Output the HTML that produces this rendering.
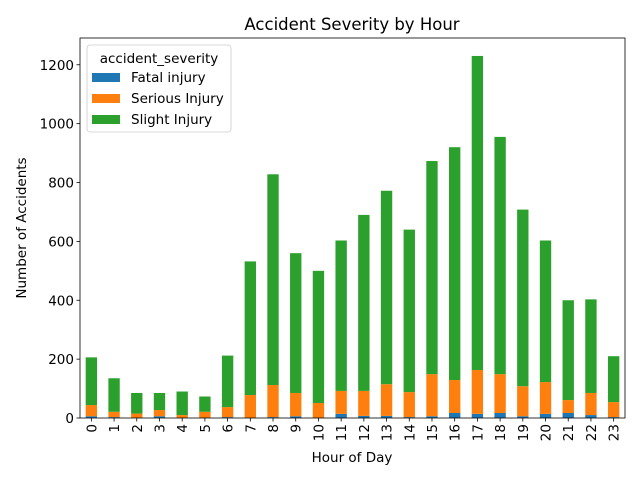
<!DOCTYPE html>
<html><head><meta charset="utf-8"><style>body{margin:0;background:#fff;position:relative}svg{font-family:"DejaVu Sans","Liberation Sans",sans-serif}</style></head>
<body>
<svg id="c" width="640" height="480"></svg>
<script>
const hours=[0,1,2,3,4,5,6,7,8,9,10,11,12,13,14,15,16,17,18,19,20,21,22,23];
const fatal=[6,3,0,6,0,0,3,0,3,6,0,14,7,7,3,6,17,14,17,6,14,17,10,3];
const serious=[38,18,15,21,10,21,34,78,109,79,51,78,85,108,85,143,112,149,132,102,108,44,75,51];
const slight=[162,114,70,58,80,52,175,454,716,475,449,511,598,657,552,724,791,1067,806,600,481,339,318,156];
const yTicks=[0,200,400,600,800,1000,1200];
const NS="http://www.w3.org/2000/svg";
const svg=document.getElementById('c');
const L=80,R=625,T=38,B=418;
const yMax=1291;
const y=v=>B-(v/yMax)*(B-T);
const step=(R-L)/hours.length;
const xc=i=>L+step*(i+0.5);
const bw=step*0.5;
function mk(t,a,txt){const e=document.createElementNS(NS,t);for(const k in a)e.setAttribute(k,a[k]);if(txt!==undefined)e.textContent=txt;svg.appendChild(e);return e;}
const cols=['#1f77b4','#ff7f0e','#2ca02c'];
const series=[fatal,serious,slight];
const names=['fatal','serious','slight'];
hours.forEach((h,i)=>{let base=0;series.forEach((s,k)=>{const r=mk('rect',{x:xc(i)-bw/2,y:y(base+s[i]),width:bw,height:y(base)-y(base+s[i]),fill:cols[k]});


base+=s[i];});
const tk=mk('line',{x1:xc(i),x2:xc(i),y1:B,y2:B+3.5,stroke:'#000','stroke-width':0.8});


const tx=xc(i)+5,ty=B+6;
const lb=mk('text',{x:tx,y:ty,'font-size':13.5,'text-anchor':'end',transform:`rotate(-90 ${tx} ${ty})`},String(h));


});
yTicks.forEach(v=>{const tk=mk('line',{x1:L-3.5,x2:L,y1:y(v),y2:y(v),stroke:'#000','stroke-width':0.8});


const lb=mk('text',{x:L-6,y:y(v)+5,'font-size':13.5,'text-anchor':'end'},String(v));


});
const fr=mk('rect',{x:L,y:T,width:R-L,height:B-T,fill:'none',stroke:'#000','stroke-width':0.8});


</script>
<svg width="640" height="480" style="position:absolute;left:0;top:0">
<text x="352" y="30" font-size="16.5" text-anchor="middle">Accident Severity by Hour</text>
<text x="352" y="462" font-size="13.5" text-anchor="middle">Hour of Day</text>
<text x="26" y="228" font-size="13.5" text-anchor="middle" transform="rotate(-90 26 228)">Number of Accidents</text>
<g>
<rect x="87" y="45" width="144" height="87" rx="3" fill="#fff" fill-opacity="0.8" stroke="#ccc" stroke-width="0.8"/>
<text x="159" y="63" font-size="13.5" text-anchor="middle">accident_severity</text>
<rect x="92" y="73" width="28" height="9" fill="#1f77b4"/>
<text x="131" y="82" font-size="13.5">Fatal injury</text>
<rect x="92" y="94" width="28" height="9" fill="#ff7f0e"/>
<text x="131" y="103" font-size="13.5">Serious Injury</text>
<rect x="92" y="115" width="28" height="9" fill="#2ca02c"/>
<text x="131" y="124" font-size="13.5">Slight Injury</text>
</g>
</svg>
</body></html>
